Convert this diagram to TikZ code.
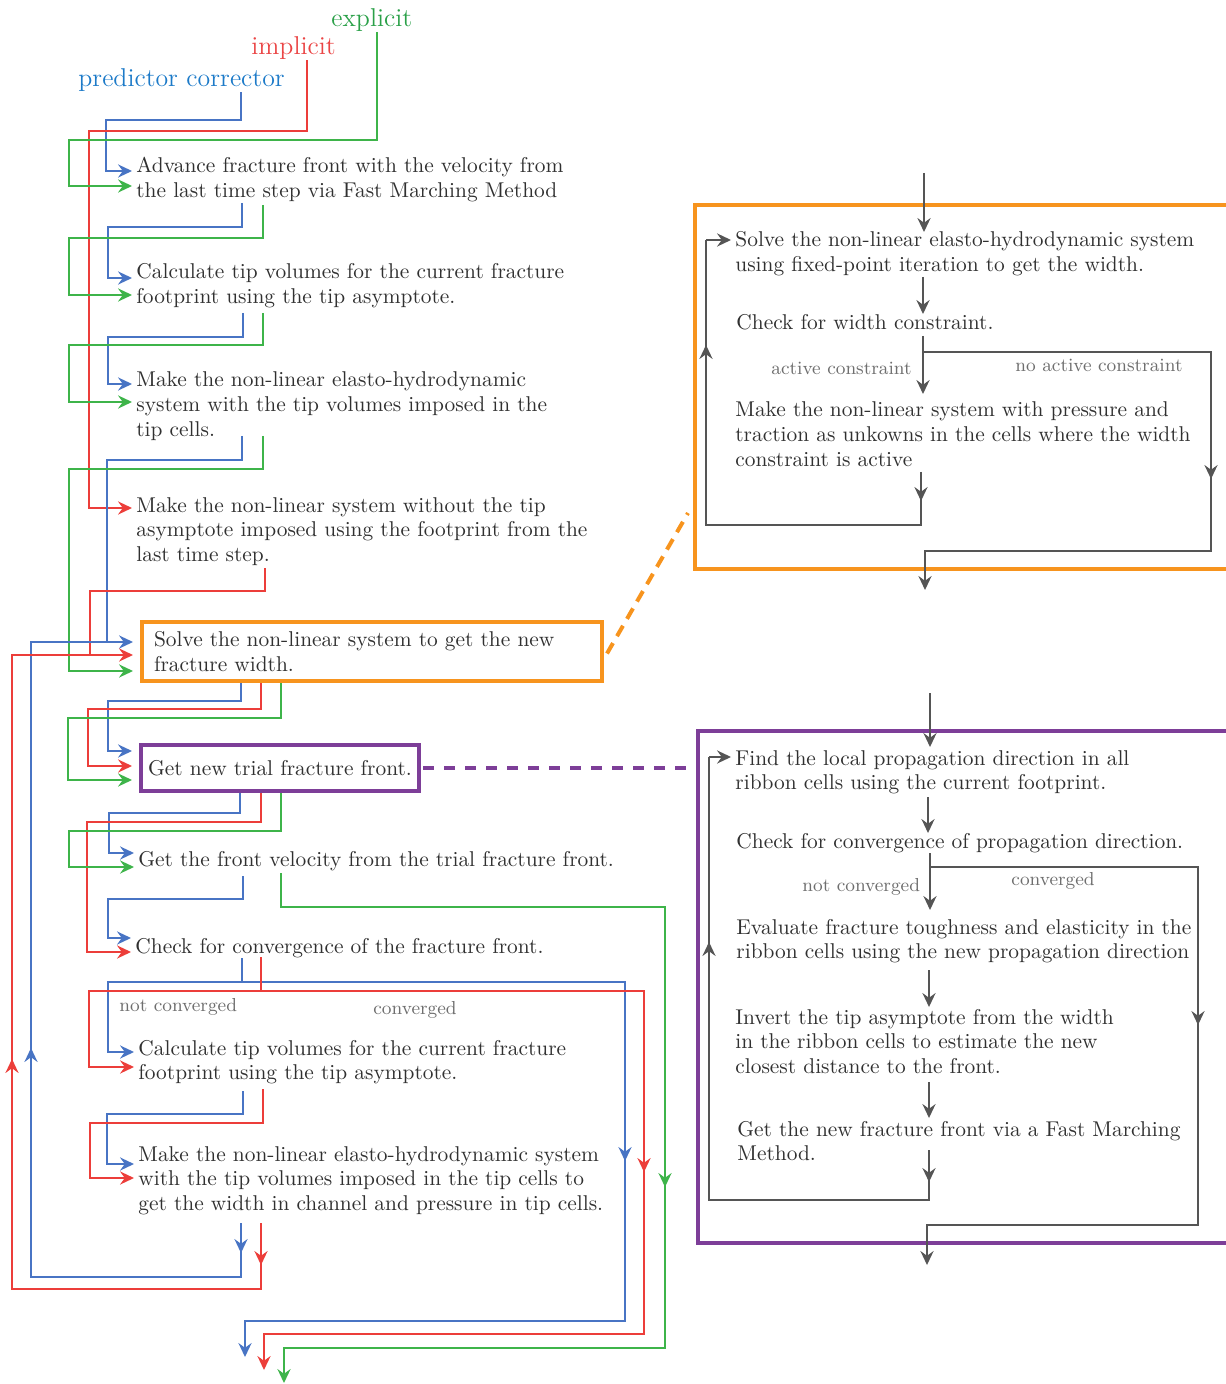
\documentclass[tikz,border=0pt]{standalone}
\usetikzlibrary{arrows.meta,calc}
\definecolor{cblue}{RGB}{72,116,196}
\definecolor{cred}{RGB}{236,62,58}
\definecolor{cgreen}{RGB}{62,180,74}
\definecolor{corange}{RGB}{247,148,30}
\definecolor{cpurple}{RGB}{125,62,152}
\definecolor{cgrey}{RGB}{85,85,85}
\definecolor{ctext}{RGB}{48,48,48}
\definecolor{clabel}{RGB}{110,110,110}
\definecolor{lblue}{RGB}{28,122,200}
\definecolor{lred}{RGB}{234,68,68}
\definecolor{lgreen}{RGB}{42,160,72}
\begin{document}
\begin{tikzpicture}[x=0.5pt,y=-0.5pt,
  body/.style={anchor=base west, inner xsep=2pt, inner ysep=0pt, font=\fontsize{10.7}{12.4}\selectfont, text=ctext},
  glbl/.style={anchor=base west, inner sep=0pt, font=\fontsize{9.4}{11}\selectfont, text=clabel},
  head/.style={anchor=base west, inner sep=0pt, font=\fontsize{12.9}{15}\selectfont},
  arw/.style={-{Stealth[length=7pt,width=6.6pt,inset=2.4pt]}},
  wb/.style={cblue, line width=0.8pt},
  wr/.style={cred, line width=0.8pt},
  wg/.style={cgreen, line width=0.8pt},
  wk/.style={cgrey, line width=0.8pt},
  boxtxt/.style={font=\fontsize{10.7}{12.4}\selectfont, text=ctext, anchor=north west, inner ysep=0pt, align=left}
]
\useasboundingbox (0,0) rectangle (1225,1384);

% ---------- headings ----------
\node[head, text=lgreen] (lexp) at (331,27) {explicit};
\node[head, text=lred] (limp) at (251,55) {implicit};
\node[head, text=lblue] (lpc) at (78,87) {predictor corrector};

% ---------- left texts ----------
\node[body] (s1) at (132,173) {\vtop{\hbox{Advance fracture front with the velocity from}\hbox{the last time step via Fast Marching Method}}};
\node[body] (s2) at (132,279) {\vtop{\hbox{Calculate tip volumes for the current fracture}\hbox{footprint using the tip asymptote.}}};
\node[body] (s3) at (132,387) {\vtop{\hbox{Make the non-linear elasto-hydrodynamic}\hbox{system with the tip volumes imposed in the}\hbox{tip cells.}}};
\node[body] (s4) at (132,512) {\vtop{\hbox{Make the non-linear system without the tip}\hbox{asymptote imposed using the footprint from the}\hbox{last time step.}}};
\node[boxtxt, draw=corange, line width=2pt, minimum height=29.5pt, text width=218pt, inner xsep=6pt] (solve) at (140,620) {Solve the non-linear system to get the new\\fracture width.};
\node[boxtxt, draw=cpurple, line width=2pt, minimum height=23pt, minimum width=139pt, inner xsep=2pt] (trial) at (139,743) {Get new trial fracture front.};
\node[body] (s7) at (134,866) {Get the front velocity from the trial fracture front.};
\node[body] (s8) at (131,953) {Check for convergence of the fracture front.};
\node[body] (s9) at (134,1055) {\vtop{\hbox{Calculate tip volumes for the current fracture}\hbox{footprint using the tip asymptote.}}};
\node[body] (s10) at (134,1161) {\vtop{\hbox{Make the non-linear elasto-hydrodynamic system}\hbox{with the tip volumes imposed in the tip cells to}\hbox{get the width in channel and pressure in tip cells.}}};
\node[glbl] (lnc) at (119,1011) {not converged};
\node[glbl] (lc) at (373,1014) {converged};

% ---------- right boxes ----------
\node[draw=corange, line width=2pt, anchor=north west, minimum width=273.5pt, minimum height=182pt, inner sep=0pt] (obox) at (693,203) {};
\node[draw=cpurple, line width=2pt, anchor=north west, minimum width=272pt, minimum height=256pt, inner sep=0pt] (pbox) at (696,729) {};

\node[body] (r1) at (731,247) {\vtop{\hbox{Solve the non-linear elasto-hydrodynamic system}\hbox{using fixed-point iteration to get the width.}}};
\node[body] (r2) at (732,330) {Check for width constraint.};
\node[body] (r3) at (731,417) {\vtop{\hbox{Make the non-linear system with pressure and}\hbox{traction as unkowns in the cells where the width}\hbox{constraint is active}}};
\node[glbl] (la) at (771,375) {active constraint};
\node[glbl] (lna) at (1015,372) {no active constraint};

\node[body] (p1) at (731,765) {\vtop{\hbox{Find the local propagation direction in all}\hbox{ribbon cells using the current footprint.}}};
\node[body] (p2) at (732,848) {Check for convergence of propagation direction.};
\node[glbl] (lnc2) at (802,891) {not converged};
\node[glbl] (lc2) at (1011,885) {converged};
\node[body] (p3) at (732,934) {\vtop{\hbox{Evaluate fracture toughness and elasticity in the}\hbox{ribbon cells using the new propagation direction}}};
\node[body] (p4) at (731,1024) {\vtop{\hbox{Invert the tip asymptote from the width}\hbox{in the ribbon cells to estimate the new}\hbox{closest distance to the front.}}};
\node[body] (p5) at (733,1136) {\vtop{\hbox{Get the new fracture front via a Fast Marching}\hbox{Method.}}};

% ---------- dashed links ----------
\draw[corange, line width=2pt, dash pattern=on 6pt off 4pt] ($(solve.east)+(3,2)$) -- ($(obox.west |- 0,513)+(-5,0)$);
\draw[cpurple, line width=2pt, dash pattern=on 5.5pt off 5pt] ($(trial.east)+(2,0)$) -- (pbox.west |- trial.east);

% ---------- left connectors ----------
\draw[wb,arw] (lpc.south -| 241,0) -- (241,120) -- (106,120) -- (106,171) -- (s1.west |- 0,171);
\draw[wr,arw] (limp.south -| 307,0) -- (307,131) -- (89,131) -- (89,508) -- (s4.west |- 0,508);
\draw[wg,arw] (lexp.south -| 377,0) -- (377,140) -- (69,140) -- (69,186) -- (s1.west |- 0,186);

\draw[wb,arw] (242,203) -- (242,227) -- (108,227) -- (108,278) -- (s2.west |- 0,278);
\draw[wg,arw] (263,205) -- (263,238) -- (69,238) -- (69,295) -- (s2.west |- 0,295);
\draw[wb,arw] (243,313) -- (243,337) -- (108,337) -- (108,384) -- (s3.west |- 0,384);
\draw[wg,arw] (263,313) -- (263,345) -- (69,345) -- (69,402) -- (s3.west |- 0,402);
\draw[wb,arw] (242,436) -- (242,460) -- (107,460) -- (107,642) -- ($(solve.west |- 0,642)+(-7,0)$);
\draw[wg,arw] (263,436) -- (263,469) -- (69,469) -- (69,671) -- ($(solve.west |- 0,671)+(-7,0)$);
\draw[wr,arw] (265,568) -- (265,591) -- (90,591) -- (90,655) -- ($(solve.west |- 0,655)+(-7,0)$);

\draw[wb,arw] (solve.south -| 241,0) -- (241,701) -- (108,701) -- (108,751) -- ($(trial.west |- 0,751)+(-7,0)$);
\draw[wr,arw] (solve.south -| 261,0) -- (261,709) -- (88,709) -- (88,766) -- ($(trial.west |- 0,766)+(-7,0)$);
\draw[wg,arw] (solve.south -| 281,0) -- (281,718) -- (68,718) -- (68,780) -- ($(trial.west |- 0,780)+(-7,0)$);

\draw[wb,arw] (trial.south -| 240,0) -- (240,813) -- (109,813) -- (109,853) -- (s7.west |- 0,853);
\draw[wr,arw] (trial.south -| 261,0) -- (261,822) -- (87,822) -- (87,952) -- (s8.west |- 0,952);
\draw[wg,arw] (trial.south -| 281,0) -- (281,831) -- (69,831) -- (69,867) -- (s7.west |- 0,867);

\draw[wb,arw] (243,876) -- (243,899) -- (108,899) -- (108,938) -- (s8.west |- 0,938);
\draw[wg,arw] (281,873) -- (281,907) -- (665,907) -- (665,1348) -- (284,1348) -- (284,1383);
\draw[wg,arw] (665,1171) -- (665,1187);

\draw[wb,arw] (242,958) -- (242,982) -- (625,982) -- (625,1321) -- (245,1321) -- (245,1357);
\draw[wb,arw] (242,982) -- (108,982) -- (108,1052) -- (s9.west |- 0,1052);
\draw[wb,arw] (625,1145) -- (625,1161);
\draw[wr,arw] (261,957) -- (261,991) -- (644,991) -- (644,1334) -- (264,1334) -- (264,1370);
\draw[wr,arw] (261,991) -- (89,991) -- (89,1067) -- (s9.west |- 0,1067);
\draw[wr,arw] (644,1156) -- (644,1172);

\draw[wb,arw] (243,1091) -- (243,1114) -- (107,1114) -- (107,1164) -- (s10.west |- 0,1164);
\draw[wr,arw] (263,1089) -- (263,1123) -- (90,1123) -- (90,1178) -- (s10.west |- 0,1178);

\draw[wb] (241,1223) -- (241,1277) -- (31,1277) -- (31,642) -- (107,642);
\draw[wb,arw] (241,1237) -- (241,1253);
\draw[wb,arw] (31,1064) -- (31,1048);
\draw[wr] (261,1223) -- (261,1289) -- (12,1289) -- (12,655) -- (90,655);
\draw[wr,arw] (261,1249) -- (261,1265);
\draw[wr,arw] (12,1075) -- (12,1059);

% ---------- right connectors (orange) ----------
\draw[wk,arw] (924,173) -- (924,232);
\draw[wk,arw] (923,277) -- (923,314);
\draw[wk,arw] (923,336) -- (923,394);
\draw[wk,arw] (923,352) -- (1211,352) -- (1211,551) -- (925,551) -- (925,590);
\draw[wk,arw] (1211,463) -- (1211,479);
\draw[wk] (921,472) -- (921,525) -- (706,525) -- (706,240);
\draw[wk,arw] (706,240) -- (r1.west |- 0,240);
\draw[wk,arw] (921,485) -- (921,501);
\draw[wk,arw] (706,361) -- (706,345);

% ---------- right connectors (purple) ----------
\draw[wk,arw] (930,693) -- (930,747);
\draw[wk,arw] (928,797) -- (928,833);
\draw[wk,arw] (930,853) -- (930,910);
\draw[wk,arw] (930,867) -- (1198,867) -- (1198,1225) -- (927,1225) -- (927,1265);
\draw[wk,arw] (1198,1009) -- (1198,1025);
\draw[wk,arw] (929,970) -- (929,1007);
\draw[wk,arw] (929,1082) -- (929,1118);
\draw[wk] (929,1150) -- (929,1200) -- (709,1200) -- (709,757);
\draw[wk,arw] (709,757) -- (p1.west |- 0,757);
\draw[wk,arw] (929,1166) -- (929,1182);
\draw[wk,arw] (709,958) -- (709,942);
\end{tikzpicture}
\end{document}
